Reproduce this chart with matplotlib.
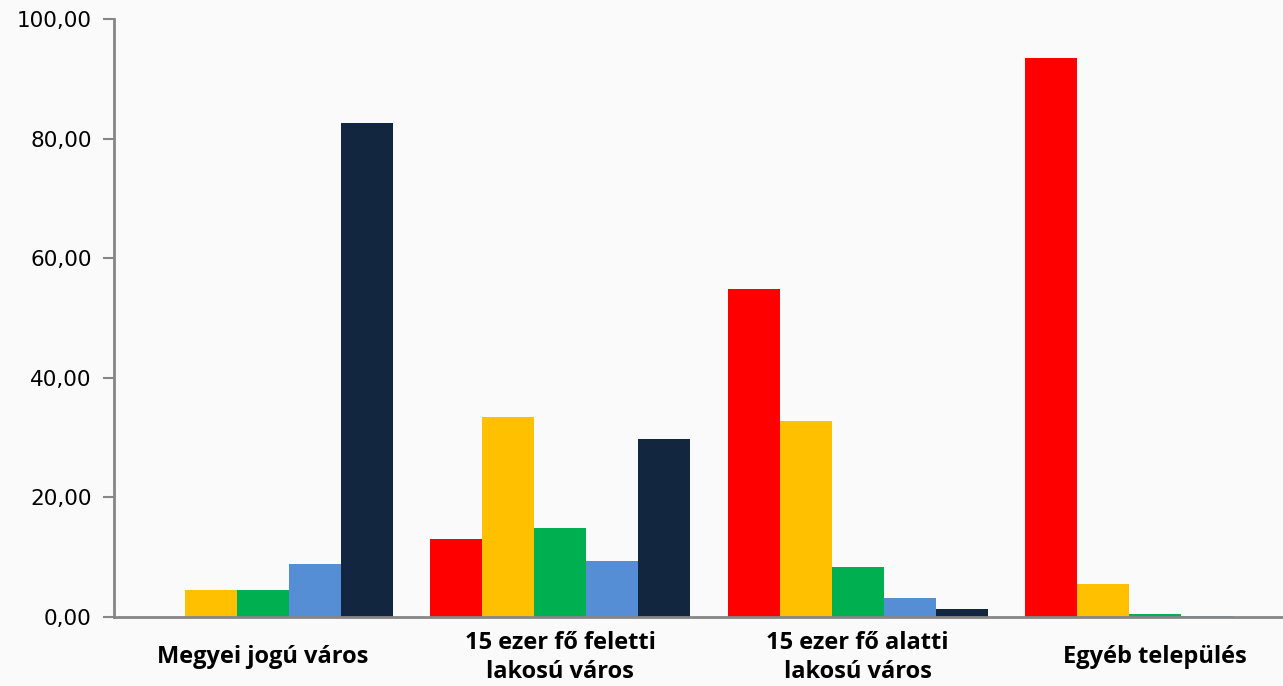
import matplotlib
matplotlib.use("Agg")
import matplotlib.pyplot as plt
import numpy as np

categories = ["Megyei jogú város", "15 ezer fő feletti\nlakosú város",
              "15 ezer fő alatti\nlakosú város", "Egyéb település"]
series_red = [0.0, 13.0, 54.8, 93.5]
series_yellow = [4.5, 33.4, 32.8, 5.6]
series_green = [4.5, 14.9, 8.3, 0.5]
series_blue = [8.8, 9.4, 3.2, 0.2]
series_navy = [82.6, 29.8, 1.3, 0.0]
yticks = [0, 20, 40, 60, 80, 100]
ytick_labels = ["0,00", "20,00", "40,00", "60,00", "80,00", "100,00"]

series = [series_red, series_yellow, series_green, series_blue, series_navy]
colors = ["#FF0000", "#FFC000", "#00B050", "#558ED5", "#12263F"]

fig = plt.figure(figsize=(12.83, 6.86), dpi=100)
fig.patch.set_facecolor("#FAFAFA")
ax = fig.add_axes([114/1283, 1 - 617/686, (1283 - 114)/1283, (617 - 19)/686])
ax.set_facecolor("#FAFAFA")

x = np.arange(len(categories))
w = 0.175
for i, (vals, c) in enumerate(zip(series, colors)):
    ax.bar(x + (i - 2) * w, vals, width=w, color=c, edgecolor="none", zorder=2)

ax.set_ylim(0, 100)
ax.set_xlim(-0.5, 3.43)
ax.set_yticks(yticks)
ax.set_yticklabels(ytick_labels, fontsize=15.5, family="DejaVu Sans", color="#000000")
ax.set_xticks(x)
ax.set_xticklabels(categories, fontsize=17, fontweight="bold", family="Open Sans",
                   linespacing=1.3)
for lab in ax.get_xticklabels():
    lab.set_verticalalignment("center")
ax.tick_params(axis="x", length=0, pad=29)
ax.tick_params(axis="y", length=8, width=1.5, color="#868686", pad=8)
for s in ["top", "right"]:
    ax.spines[s].set_visible(False)
for s in ["left", "bottom"]:
    ax.spines[s].set_color("#868686")
    ax.spines[s].set_linewidth(2)
ax.spines["bottom"].set_zorder(3)

fig.savefig("out.png", dpi=100, facecolor=fig.get_facecolor())
